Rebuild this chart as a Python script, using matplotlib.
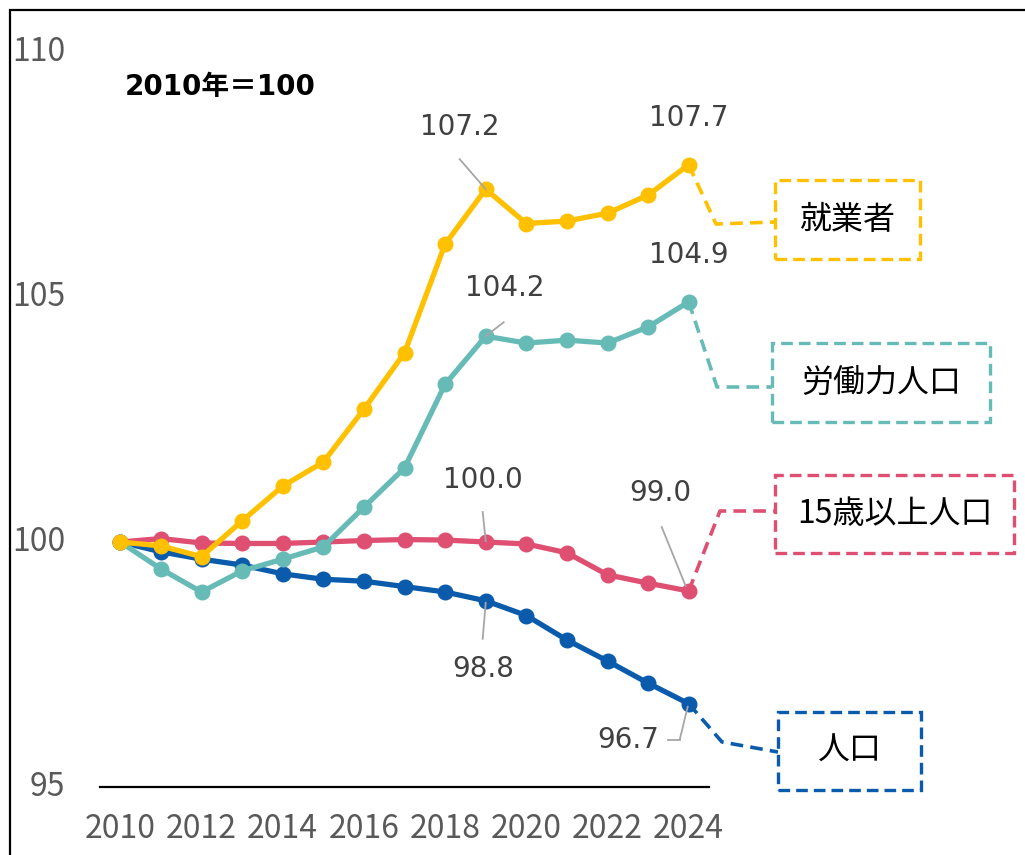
import matplotlib
matplotlib.use("Agg")
import matplotlib.pyplot as plt
import matplotlib.transforms as mtransforms
from matplotlib.lines import Line2D
from matplotlib.patches import Rectangle

plt.rcParams['font.family'] = ['Noto Sans CJK JP', 'DejaVu Sans']

years = list(range(2010, 2025))
employed = [100.0, 99.92, 99.7, 100.43, 101.14, 101.63, 102.71, 103.86, 106.08, 107.2,
            106.5, 106.55, 106.71, 107.08, 107.7]
labor_force = [100.0, 99.45, 98.98, 99.41, 99.65, 99.9, 100.71, 101.51, 103.22, 104.2,
               104.06, 104.12, 104.06, 104.39, 104.9]
pop15 = [100.0, 100.07, 99.98, 99.97, 99.97, 100.0, 100.03, 100.05, 100.04, 100.0,
         99.96, 99.78, 99.33, 99.16, 99.0]
population = [100.0, 99.8, 99.65, 99.53, 99.35, 99.24, 99.2, 99.09, 98.98, 98.8,
              98.5, 98.0, 97.57, 97.12, 96.7]

series_names = ['人口', '15歳以上人口', '労働力人口', '就業者']
series_values = [population, pop15, labor_force, employed]
colors = ['#0A5BAB', '#DE4F72', '#67BBB7', '#FFC000']

xticks = [2010, 2012, 2014, 2016, 2018, 2020, 2022, 2024]
yticks = [95, 100, 105, 110]

W, H = 1025, 855
fig = plt.figure(figsize=(W / 100, H / 100), dpi=100)
ax = fig.add_axes([100 / W, 1 - 787 / H, 609 / W, 735 / H])
ax.set_xlim(2009.5, 2024.5)
ax.set_ylim(95, 110)

for name, vals, c in zip(series_names, series_values, colors):
    ax.plot(years, vals, color=c, lw=3.8, marker='o', ms=10.5, solid_capstyle='round',
            solid_joinstyle='round', clip_on=False, zorder=3)

for s in ['top', 'right', 'left']:
    ax.spines[s].set_visible(False)
ax.spines['bottom'].set_linewidth(1.6)
ax.spines['bottom'].set_color('black')
ax.set_xticks(xticks)
ax.set_xticklabels([str(t) for t in xticks])
ax.set_yticks(yticks)
ax.set_yticklabels([str(t) for t in yticks])
ax.tick_params(axis='x', length=0, pad=19, labelsize=23, labelcolor='#595959')
ax.tick_params(axis='y', length=0, pad=25, labelsize=23, labelcolor='#595959')
shift = mtransforms.ScaledTranslation(0, 4 / 100, fig.dpi_scale_trans)
for lbl in ax.get_yticklabels():
    lbl.set_transform(lbl.get_transform() + shift)

# base note
fig.text(125 / W, 1 - 87 / H, '2010年＝100', fontsize=20, fontweight='bold',
         family=['DejaVu Sans', 'Noto Sans CJK JP'],
         ha='left', va='center', color='black')

# value labels (text offset px, leader path offsets px)
gray = '#A6A6A6'
tc = '#404040'
labels = [
    (2019, employed[9], '107.2', (-26, 62), [(-26, 30), (0, 0)]),
    (2024, employed[14], '107.7', (0, 47), None),
    (2019, labor_force[9], '104.2', (19, 48), [(18, 14), (0, 0)]),
    (2024, labor_force[14], '104.9', (0, 47), None),
    (2019, pop15[9], '100.0', (-3, 62), [(-3, 30), (0, 1)]),
    (2024, pop15[14], '99.0', (-28, 98), [(-27, 64), (-3, 5)]),
    (2019, population[9], '98.8', (-3, -68), [(0, -2), (-3, -38)]),
    (2024, population[14], '96.7', (-61, -36), [(-21, -36), (-9, -36), (-1, -3)]),
]
for x, y, txt, off, path in labels:
    ax.annotate(txt, xy=(x, y), xytext=off, textcoords='offset pixels',
                ha='center', va='center', fontsize=20, color=tc,
                family='DejaVu Sans', annotation_clip=False, zorder=5)
    if path:
        for (dx0, dy0), (dx1, dy1) in zip(path[:-1], path[1:]):
            p0 = ax.transData.transform((x, y))
            a = fig.transFigure.inverted().transform((p0[0] + dx0, p0[1] + dy0))
            b = fig.transFigure.inverted().transform((p0[0] + dx1, p0[1] + dy1))
            fig.add_artist(Line2D([a[0], b[0]], [a[1], b[1]], color=gray, lw=1.3,
                                  transform=fig.transFigure, zorder=6))

# legend boxes with dashed connectors (figure pixel coords, from top)
boxes = {
    '就業者': dict(conn=[(716, 224), (775, 222)], box=(775, 180, 920, 259)),
    '労働力人口': dict(conn=[(717, 387), (772, 387)], box=(772, 343, 990, 422)),
    '15歳以上人口': dict(conn=[(720, 511), (775, 511)], box=(775, 475, 1014, 553)),
    '人口': dict(conn=[(722, 742), (778, 752)], box=(778, 712, 921, 790)),
}

def fp(px, py):
    return (px / W, 1 - py / H)

for name, vals, c in zip(series_names, series_values, colors):
    info = boxes[name]
    p0 = ax.transData.transform((years[-1], vals[-1]))
    start = fig.transFigure.inverted().transform(p0)
    pts = [tuple(start)] + [fp(*q) for q in info['conn']]
    fig.add_artist(Line2D([p[0] for p in pts], [p[1] for p in pts], color=c, lw=2.6,
                          dashes=(3.5, 2), transform=fig.transFigure, zorder=2))
    x0, y0, x1, y1 = info['box']
    fig.add_artist(Rectangle(fp(x0, y1), (x1 - x0) / W, (y1 - y0) / H,
                             transform=fig.transFigure, facecolor='white', edgecolor=c,
                             lw=2.4, linestyle=(0, (3.5, 1.8)), zorder=4))
    cx, cy = fp((x0 + x1) / 2, (y0 + y1) / 2)
    fig.text(cx, cy, name, ha='center', va='center', fontsize=23, color='black', zorder=5)

# outer frame
fig.add_artist(Rectangle((10 / W, -0.1), 1.2, 1.1 - 10 / H, transform=fig.transFigure,
                         fill=False, edgecolor='black', lw=1.6, zorder=10))

fig.savefig('out.png', dpi=100)
